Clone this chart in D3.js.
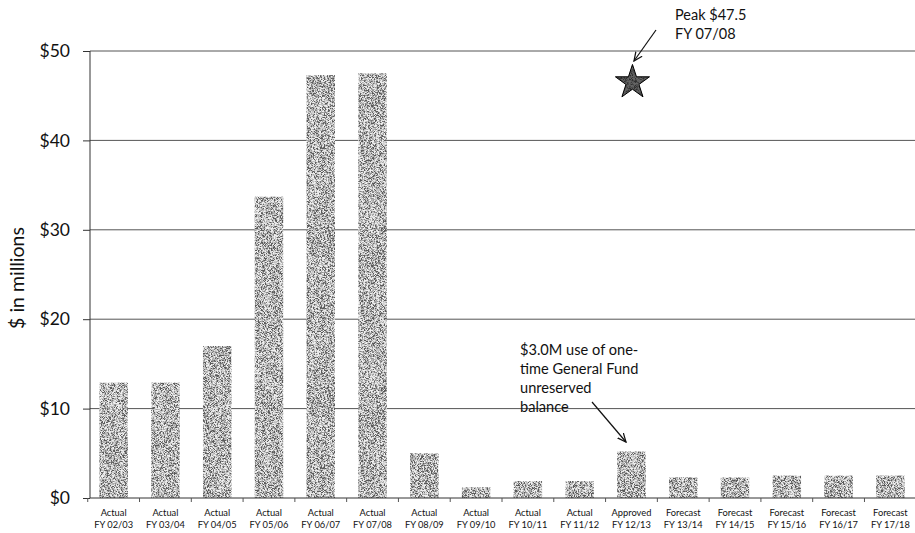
<!DOCTYPE html>
<html>
<head>
<meta charset="utf-8">
<script src="https://cdn.jsdelivr.net/npm/d3@7"></script>
<style>
  html, body { margin: 0; padding: 0; background: #fff; }
  svg { display: block; font-family: Lato, "Open Sans", sans-serif; }
</style>
</head>
<body>
<svg id="chart" width="915" height="533"></svg>
<script>
// Fund balance by fiscal year, $ millions
const status = ["Actual","Actual","Actual","Actual","Actual","Actual","Actual","Actual","Actual","Actual","Approved","Forecast","Forecast","Forecast","Forecast","Forecast"];
const years = ["FY 02/03","FY 03/04","FY 04/05","FY 05/06","FY 06/07","FY 07/08","FY 08/09","FY 09/10","FY 10/11","FY 11/12","FY 12/13","FY 13/14","FY 14/15","FY 15/16","FY 16/17","FY 17/18"];
const balance = [12.9, 12.9, 17.0, 33.7, 47.3, 47.5, 5.0, 1.2, 1.9, 1.9, 5.2, 2.3, 2.3, 2.5, 2.5, 2.5];
const yTicks = [0, 10, 20, 30, 40, 50];
const peakValue = 47.5;
const peakYear = "FY 07/08";

const svg = d3.select("#chart");
const plotL = 90, plotR = 916, plotT = 51, plotB = 498;

const x = d3.scaleBand().domain(years).range([88, plotR]).paddingInner(0.45).paddingOuter(0.22);
const y = d3.scaleLinear().domain([0, 50]).range([plotB, plotT]);

// fine stipple texture for the bars
const defs = svg.append("defs");
const flt = defs.append("filter").attr("id", "stipple").attr("x", 0).attr("y", 0).attr("width", 1).attr("height", 1);
flt.append("feTurbulence").attr("type", "fractalNoise").attr("baseFrequency", "0.7 1.6").attr("numOctaves", 2).attr("seed", 5).attr("result", "noise");
flt.append("feColorMatrix").attr("in", "noise").attr("type", "matrix")
  .attr("values", "0 0 0 0 0.1  0 0 0 0 0.1  0 0 0 0 0.1  -3.4 0 0 0 2.2").attr("result", "dots");
flt.append("feFlood").attr("flood-color", "#f0f0f0").attr("result", "white");
flt.append("feComposite").attr("in", "dots").attr("in2", "white").attr("operator", "over").attr("result", "tex");
flt.append("feComposite").attr("in", "tex").attr("in2", "SourceGraphic").attr("operator", "in");

// horizontal gridlines
svg.append("g").selectAll("line").data(yTicks.filter(d => d > 0)).join("line")
  .attr("x1", plotL).attr("x2", 915)
  .attr("y1", d => y(d)).attr("y2", d => y(d))
  .attr("stroke", "#555").attr("stroke-width", 1);

// bars
svg.append("g").selectAll("rect").data(balance).join("rect")
  .attr("x", (d, i) => x(years[i]))
  .attr("y", d => y(d))
  .attr("width", x.bandwidth())
  .attr("height", d => y(0) - y(d))
  .attr("fill", "#000")
  .attr("filter", "url(#stipple)");

// y axis
const yAxis = d3.axisLeft(y).tickValues(yTicks).tickSize(7).tickFormat(d => "$" + d);
const gy = svg.append("g").attr("transform", `translate(${plotL},0)`).call(yAxis);
gy.select(".domain").attr("stroke", "#333").attr("d", `M0,${plotT}V${plotB}`);
gy.selectAll(".tick line").attr("stroke", "#333");
gy.selectAll(".tick text").attr("x", -20).attr("font-size", 17.5).attr("fill", "#111")
  .attr("font-family", "Lato, sans-serif");

// x axis baseline with ticks at band boundaries
const gap = x.step() - x.bandwidth();
const bounds = years.map(d => x(d) - gap / 2).concat([x(years[years.length - 1]) + x.bandwidth() + gap / 2]);
svg.append("line").attr("x1", plotL).attr("x2", 915).attr("y1", plotB).attr("y2", plotB).attr("stroke", "#333");
svg.append("g").selectAll("line").data(bounds).join("line")
  .attr("x1", d => d).attr("x2", d => d).attr("y1", plotB).attr("y2", plotB + 4)
  .attr("stroke", "#555");

// category labels
const lab = svg.append("g").attr("font-size", 9.3).attr("fill", "#111").attr("text-anchor", "middle");
years.forEach((yr, i) => {
  const cx = x(yr) + x.bandwidth() / 2;
  lab.append("text").attr("x", cx).attr("y", 516).text(status[i]);
  lab.append("text").attr("x", cx).attr("y", 528).text(yr);
});

// y axis title
svg.append("text").attr("transform", "translate(24,278) rotate(-90)")
  .attr("text-anchor", "middle").attr("font-size", 19.5).attr("fill", "#111").text("$ in millions");

// peak marker
const starX = x(years[10]) + x.bandwidth() / 2 + 1;
const starY = y(peakValue) + 9;
const starPath = d3.symbol(d3.symbolStar, 360)();
svg.append("path").attr("d", starPath)
  .attr("transform", `translate(${starX},${starY})`)
  .attr("fill", "#1a1a1a");
svg.append("path").attr("d", starPath)
  .attr("transform", `translate(${starX},${starY})`)
  .attr("fill", "#000").attr("filter", "url(#stipple)").attr("opacity", 0.35);
svg.append("path").attr("d", starPath)
  .attr("transform", `translate(${starX},${starY})`)
  .attr("fill", "none").attr("stroke", "#000").attr("stroke-width", 1);

defs.append("marker").attr("id", "arr").attr("viewBox", "0 0 10 10").attr("refX", 9).attr("refY", 5)
  .attr("markerWidth", 8).attr("markerHeight", 8).attr("orient", "auto")
  .append("path").attr("d", "M0,1 L9,5 L0,9").attr("fill", "none").attr("stroke", "#111").attr("stroke-width", 1.3);

svg.append("line").attr("x1", 656).attr("y1", 30).attr("x2", 634).attr("y2", 61)
  .attr("stroke", "#111").attr("stroke-width", 1.2).attr("marker-end", "url(#arr)");
const pk = svg.append("text").attr("font-size", 14.5).attr("fill", "#111");
pk.append("tspan").attr("x", 675).attr("y", 20).text("Peak $" + peakValue);
pk.append("tspan").attr("x", 675).attr("y", 39).text(peakYear);

// one-time use annotation
const note = ["$3.0M use of one-", "time General Fund", "unreserved", "balance"];
const nt = svg.append("text").attr("font-size", 14.6).attr("fill", "#111");
note.forEach((t, i) => nt.append("tspan").attr("x", 520).attr("y", 355 + i * 19).text(t));
svg.append("line").attr("x1", 592).attr("y1", 402).attr("x2", 626).attr("y2", 442)
  .attr("stroke", "#111").attr("stroke-width", 1.2).attr("marker-end", "url(#arr)");
</script>
</body>
</html>
